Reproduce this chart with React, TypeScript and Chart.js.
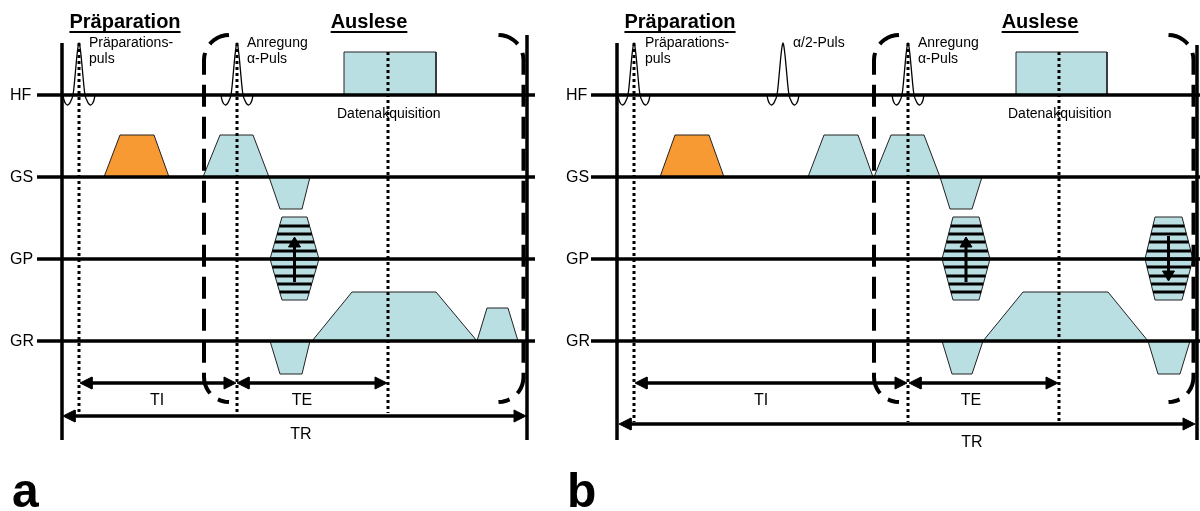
import React, { useEffect, useRef } from 'react';
import { Chart, registerables } from 'chart.js';
Chart.register(...registerables);

const W = 1200;
const H = 511;

// ---------- channels ----------
const channelNames = ['HF', 'GS', 'GP', 'GR'];
const channelLevels = [95, 177, 259, 341];

// ---------- panel frame (diagram time / level units) ----------
const panelLetters = ['a', 'b'];
const panelLetterX = [12, 567];
const channelLabelX = [10, 566];
const axisFrom = [37, 591];
const axisTo = [535, 1200];
const trFrom = [62, 617];
const trTo = [527, 1197];
const trTop = [35, 45];
const trBottom = 440;

// ---------- RF events ----------
const prepPulse = [79, 634];
const excitePulse = [237, 908];
const halfAlphaPulse = [783];
const echoTime = [388, 1059];
const acqStart = [344, 1016];
const acqEnd = [436, 1107];
const acqAmp = 43;
const dottedTop = 43;
const dottedBottom = [413, 422];

// RF pulse envelope (offset, amplitude)
const pulseDx = [-16, -15, -13.5, -11.5, -9.5, -7.5, -6, -5, -3.5, -2, -1, 0, 1, 2, 3.5, 5, 6, 7.5, 9.5, 11.5, 13.5, 15, 16];
const pulseAmp = [0, -5, -8.5, -10, -8.5, -4.5, 0, 8, 24, 40, 48, 52, 48, 40, 24, 8, 0, -4.5, -8.5, -10, -8.5, -5, 0];

// ---------- gradient lobes: [rampStart, plateauStart, plateauEnd, rampEnd, amplitude] ----------
const gsLobesA = [[104, 120, 154, 169, 42], [203, 220, 253, 269, 42], [269, 280, 302, 310, -32]];
const gsKindsA = ['prep', 'seq', 'seq'];
const gsLobesB = [[660, 675, 709, 724, 42], [808, 824, 858, 873, 42], [874, 891, 924, 940, 42], [940, 950, 972, 982, -32]];
const gsKindsB = ['prep', 'seq', 'seq', 'seq'];
const grLobesA = [[270, 280, 302, 310, -33], [312, 352, 436, 477, 49], [477, 487, 508, 518, 33]];
const grLobesB = [[942, 952, 972, 983, -33], [983, 1023, 1108, 1148, 49], [1148, 1158, 1180, 1190, -33]];

// phase-encoding tables: [left, topLeft, topRight, right]
const gpTablesA = [[270, 282, 307, 319]];
const gpArrowA = ['up'];
const gpTablesB = [[942, 953, 979, 990], [1145, 1155, 1182, 1193]];
const gpArrowB = ['up', 'down'];
const gpMax = 42;
const gpMin = 41;
const phaseSteps = [33, 25, 17, 8, 0, -8, -17, -25, -33];
const gpArrowTail = 23;
const gpArrowTip = 22;

// readout brackets [left side, right side]
const bracketA = [204, 523.5];
const bracketB = [874, 1193.5];
const bracketTop = 35;
const bracketBottom = 402;

// timing arrows
const tiFrom = [80, 635];
const tiTo = [236, 907];
const teFrom = [237, 909];
const teTo = [387, 1058];
const titeY = 383;
const trArrowFrom = [63, 619];
const trArrowTo = [526, 1195];
const trArrowY = [416, 424];
const tiLabelX = [157, 761];
const teLabelX = [302, 971];
const trLabelX = [301, 972];
const titeLabelY = 405;
const trLabelY = [439, 447];

// titles and annotations
const titlePrepX = [125, 680];
const titleReadX = [369, 1040];
const prepTextX = [89, 645];
const exciteTextX = [247, 918];
const halfAlphaTextX = [793];
const acqTextX = [337, 1008];

const BLUE = '#badfe3';
const ORANGE = '#f89a33';
const EDGE = '#222222';
const FONT = '"Liberation Sans", Arial, Helvetica, sans-serif';

type P = { x: number; y: number };

function buildDatasets() {
  const list: any[] = [];
  const line = (pts: P[], o: any = {}) => {
    list.push({
      type: 'line',
      data: pts,
      borderColor: o.color ?? '#000',
      borderWidth: o.width ?? 1,
      borderDash: o.dash ?? [],
      borderCapStyle: o.cap ?? 'butt',
      borderJoinStyle: 'miter',
      fill: o.fill ? 'shape' : false,
      backgroundColor: o.fill ?? 'rgba(0,0,0,0)',
      pointRadius: 0,
      pointHoverRadius: 0,
      tension: 0,
      cubicInterpolationMode: o.mono ? 'monotone' : 'default',
    });
  };

  const lobe = (l: number[], base: number, color: string) => {
    const [s, ps, pe, e, amp] = l;
    line(
      [
        { x: s, y: base },
        { x: ps, y: base - amp },
        { x: pe, y: base - amp },
        { x: e, y: base },
        { x: s, y: base },
      ],
      { fill: color, color: EDGE, width: 1 }
    );
  };

  // gradient lobes
  gsLobesA.forEach((l, i) => lobe(l, channelLevels[1], gsKindsA[i] === 'prep' ? ORANGE : BLUE));
  gsLobesB.forEach((l, i) => lobe(l, channelLevels[1], gsKindsB[i] === 'prep' ? ORANGE : BLUE));
  grLobesA.forEach((l) => lobe(l, channelLevels[3], BLUE));
  grLobesB.forEach((l) => lobe(l, channelLevels[3], BLUE));

  // acquisition windows
  acqStart.forEach((s, i) => lobe([s, s, acqEnd[i], acqEnd[i], acqAmp], channelLevels[0], BLUE));

  // phase tables
  const gpBase = channelLevels[2];
  const tables = [...gpTablesA, ...gpTablesB];
  const arrows = [...gpArrowA, ...gpArrowB];
  tables.forEach((t) => {
    const [s, ps, pe, e] = t;
    line(
      [
        { x: s, y: gpBase },
        { x: ps, y: gpBase - gpMax },
        { x: pe, y: gpBase - gpMax },
        { x: e, y: gpBase },
        { x: pe, y: gpBase + gpMin },
        { x: ps, y: gpBase + gpMin },
        { x: s, y: gpBase },
      ],
      { fill: BLUE, color: EDGE, width: 1 }
    );
    phaseSteps.forEach((o) => {
      const frac = o >= 0 ? o / gpMax : -o / gpMin;
      line(
        [
          { x: s + (ps - s) * frac, y: gpBase - o },
          { x: e - (e - pe) * frac, y: gpBase - o },
        ],
        { width: 3 }
      );
    });
  });

  // axes
  channelLevels.forEach((lv) => {
    axisFrom.forEach((f, i) => line([{ x: f, y: lv }, { x: axisTo[i], y: lv }], { width: 3.5 }));
  });

  // RF pulses
  const pulse = (c: number) =>
    line(
      pulseDx.map((d, k) => ({ x: c + d, y: channelLevels[0] - pulseAmp[k] })),
      { width: 1.3, mono: true }
    );
  [...prepPulse, ...excitePulse, ...halfAlphaPulse].forEach(pulse);

  // TR boundaries
  trFrom.forEach((x) => line([{ x, y: dottedTop }, { x, y: trBottom }], { width: 3.5 }));
  trTo.forEach((x, i) => line([{ x, y: trTop[i] }, { x, y: trBottom }], { width: 3.5 }));

  // dotted event markers
  [0, 1].forEach((i) => {
    line([{ x: prepPulse[i], y: dottedTop }, { x: prepPulse[i], y: dottedBottom[i] }], { width: 3, dash: [3, 3] });
    line([{ x: excitePulse[i], y: dottedTop }, { x: excitePulse[i], y: dottedBottom[i] }], { width: 3, dash: [3, 3] });
    line([{ x: echoTime[i], y: channelLevels[0] - acqAmp }, { x: echoTime[i], y: dottedBottom[i] }], { width: 3, dash: [3, 3] });
  });

  // readout brackets
  const bracket = (xs: number, dir: number) => {
    const r = 25;
    const pts: P[] = [];
    for (let k = 0; k <= 10; k++) {
      const t = (k / 10) * (Math.PI / 2);
      pts.push({ x: xs + dir * (r - r * Math.sin(t)), y: bracketTop + r - r * Math.cos(t) });
    }
    for (let k = 10; k >= 0; k--) {
      const t = (k / 10) * (Math.PI / 2);
      pts.push({ x: xs + dir * (r - r * Math.sin(t)), y: bracketBottom - r + r * Math.cos(t) });
    }
    line(pts, { width: 4, dash: [22, 10] });
  };
  [bracketA, bracketB].forEach((b) => {
    bracket(b[0], 1);
    bracket(b[1], -1);
  });

  // arrows
  const head = (tx: number, ty: number, dx: number, dy: number, len: number, hw: number) => {
    const bx = tx - dx * len;
    const by = ty - dy * len;
    line(
      [
        { x: tx, y: ty },
        { x: bx - dy * hw, y: by + dx * hw },
        { x: bx + dy * hw, y: by - dx * hw },
        { x: tx, y: ty },
      ],
      { fill: '#000', color: '#000', width: 1 }
    );
  };
  const hArrow = (x1: number, x2: number, y: number) => {
    line([{ x: x1 + 8, y }, { x: x2 - 8, y }], { width: 3.5 });
    head(x1, y, -1, 0, 12, 6);
    head(x2, y, 1, 0, 12, 6);
  };
  [0, 1].forEach((i) => {
    hArrow(tiFrom[i], tiTo[i], titeY);
    hArrow(teFrom[i], teTo[i], titeY);
    hArrow(trArrowFrom[i], trArrowTo[i], trArrowY[i]);
  });

  // phase-encoding arrows
  tables.forEach((t, i) => {
    const cx = (t[1] + t[2]) / 2;
    const dir = arrows[i] === 'up' ? -1 : 1;
    const tail = gpBase - dir * gpArrowTail;
    const tip = gpBase + dir * gpArrowTip;
    line([{ x: cx, y: tail }, { x: cx, y: tip - dir * 6 }], { width: 3 });
    head(cx, tip, 0, dir, 10, 6);
  });

  return list;
}

type T = { text: string; x: number; y: number; font: string; align: CanvasTextAlign; underline?: boolean };

function buildTexts(): T[] {
  const t: T[] = [];
  const bold20 = `bold 20px ${FONT}`;
  const r14 = `14px ${FONT}`;
  const r16 = `16px ${FONT}`;
  [0, 1].forEach((i) => {
    t.push({ text: 'Präparation', x: titlePrepX[i], y: 28, font: bold20, align: 'center', underline: true });
    t.push({ text: 'Auslese', x: titleReadX[i], y: 28, font: bold20, align: 'center', underline: true });
    t.push({ text: 'Präparations-', x: prepTextX[i], y: 47, font: r14, align: 'left' });
    t.push({ text: 'puls', x: prepTextX[i], y: 63, font: r14, align: 'left' });
    t.push({ text: 'Anregung', x: exciteTextX[i], y: 47, font: r14, align: 'left' });
    t.push({ text: 'α-Puls', x: exciteTextX[i], y: 63, font: r14, align: 'left' });
    t.push({ text: 'Datenakquisition', x: acqTextX[i], y: 118, font: r14, align: 'left' });
    channelNames.forEach((n, k) =>
      t.push({ text: n, x: channelLabelX[i], y: channelLevels[k] + 4.5, font: r16, align: 'left' })
    );
    t.push({ text: 'TI', x: tiLabelX[i], y: titeLabelY, font: r16, align: 'center' });
    t.push({ text: 'TE', x: teLabelX[i], y: titeLabelY, font: r16, align: 'center' });
    t.push({ text: 'TR', x: trLabelX[i], y: trLabelY[i], font: r16, align: 'center' });
    t.push({ text: panelLetters[i], x: panelLetterX[i], y: 507, font: `bold 48px ${FONT}`, align: 'left' });
  });
  halfAlphaTextX.forEach((x) => t.push({ text: 'α/2-Puls', x, y: 47, font: r14, align: 'left' }));
  return t;
}

const textPlugin = {
  id: 'diagramText',
  beforeDraw(chart: any) {
    const ctx = chart.ctx;
    ctx.save();
    ctx.fillStyle = '#ffffff';
    ctx.fillRect(0, 0, chart.width, chart.height);
    ctx.restore();
  },
  beforeDatasetsDraw(chart: any) {
    const ctx = chart.ctx;
    const xs = chart.scales.x;
    const ys = chart.scales.y;
    ctx.save();
    ctx.fillStyle = '#000';
    ctx.strokeStyle = '#000';
    ctx.textBaseline = 'alphabetic';
    for (const t of buildTexts()) {
      ctx.font = t.font;
      ctx.textAlign = t.align;
      const px = xs.getPixelForValue(t.x);
      const py = ys.getPixelForValue(t.y);
      ctx.fillText(t.text, px, py);
      if (t.underline) {
        const w = ctx.measureText(t.text).width;
        ctx.lineWidth = 2;
        ctx.beginPath();
        ctx.moveTo(px - w / 2, py + 4);
        ctx.lineTo(px + w / 2, py + 4);
        ctx.stroke();
      }
    }
    ctx.restore();
  },
};

export default function App() {
  const ref = useRef<HTMLCanvasElement | null>(null);
  useEffect(() => {
    if (!ref.current) return;
    const datasets = buildDatasets().reverse();
    const chart = new Chart(ref.current, {
      type: 'line',
      data: { datasets },
      options: {
        animation: false,
        responsive: false,
        devicePixelRatio: 1,
        events: [],
        layout: { padding: 0 },
        plugins: { legend: { display: false }, tooltip: { enabled: false }, title: { display: false } },
        scales: {
          x: { type: 'linear', min: 0, max: W, display: false },
          y: { type: 'linear', min: 0, max: H, reverse: true, display: false },
        },
      } as any,
      plugins: [textPlugin],
    } as any);
    return () => chart.destroy();
  }, []);
  return (
    <div style={{ position: 'absolute', left: 0, top: 0, width: W, height: H, background: '#fff' }}>
      <canvas ref={ref} width={W} height={H} style={{ display: 'block' }} />
    </div>
  );
}
